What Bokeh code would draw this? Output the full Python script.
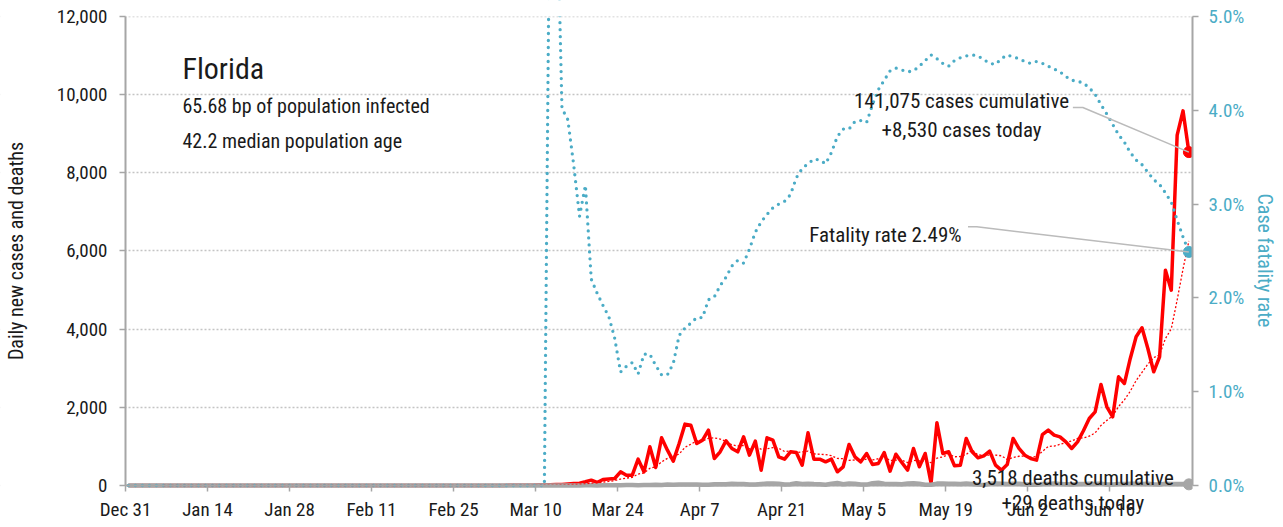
import numpy as np
import pandas as pd
from bokeh.plotting import figure
from bokeh.models import Range1d, LinearAxis, FixedTicker, NumeralTickFormatter, Label, BoxAnnotation
from bokeh.embed import file_html
from bokeh.resources import INLINE

# ---------------- data ----------------
start_date = "2019-12-31"
end_date = "2020-06-29"
dates = pd.date_range(start_date, end_date, freq="D")

# daily new cases (Dec 31 .. Feb 29 are zero)
cases_before_march = [0] * 61
cases_from_march = [
    2, 0, 1, 2, 3, 4, 3, 5, 8, 10,
    13, 18, 22, 28, 40, 50, 60, 95, 136, 77,
    153, 165, 179, 350, 264, 264, 673, 350, 990, 460,
    1220, 903, 622, 1075, 1570, 1543, 1075, 1160, 1415, 690,
    862, 1143, 947, 862, 1245, 776, 1134, 392, 1220, 1160,
    734, 673, 862, 844, 520, 1348, 673, 673, 606, 673,
    350, 478, 1049, 734, 606, 819, 537, 563, 844, 367,
    801, 589, 392, 947, 478, 819, 60, 1604, 819, 862,
    503, 520, 1203, 862, 708, 759, 878, 520, 392, 537,
    1203, 947, 776, 690, 648, 1300, 1415, 1288, 1245, 1117,
    947, 1117, 1400, 1714, 1884, 2584, 2013, 1757, 2781, 2610,
    3250, 3805, 4035, 3506, 2909, 3293, 5510, 4998, 8964, 9585,
    8530,
]
cases = cases_before_march + cases_from_march

# daily deaths (zero until Mar 11)
deaths_before = [0] * 71
deaths_after = [
    2, 0, 0, 1, 1, 2, 2, 3, 4, 2,
    4, 6, 5, 8, 10, 11, 8, 12, 15, 18,
    14, 22, 19, 25, 26, 28, 27, 21, 20, 30,
    34, 29, 45, 40, 36, 26, 24, 39, 48, 52,
    46, 25, 33, 60, 41, 47, 35, 30, 20, 47,
    62, 33, 48, 46, 25, 22, 57, 72, 43, 39,
    36, 30, 48, 58, 42, 20, 19, 48, 50, 47,
    45, 36, 51, 38, 22, 13, 46, 50, 46, 37,
    43, 46, 31, 21, 18, 39, 40, 50, 41, 33,
    25, 36, 38, 47, 37, 48, 27, 24, 40, 39,
    43, 45, 39, 46, 32, 24, 47, 39, 40, 41, 29,
]
deaths = deaths_before + deaths_after

# case fatality rate, percent (zero until Mar 11)
cfr_before = [0.0] * 72
cfr_after = [
    7.0, 6.7, 4.02, 3.9, 3.42, 2.87, 3.2, 2.2, 2.05,
    1.92, 1.80, 1.57, 1.21, 1.27, 1.31, 1.19, 1.40, 1.40, 1.28,
    1.18, 1.18, 1.30, 1.60, 1.68, 1.73, 1.79, 1.79, 1.98, 2.01,
    2.13, 2.22, 2.34, 2.40, 2.37, 2.52, 2.70, 2.81, 2.89, 2.96,
    3.00, 3.03, 3.10, 3.28, 3.38, 3.43, 3.48, 3.47, 3.43, 3.55,
    3.72, 3.80, 3.80, 3.88, 3.89, 3.87, 4.06, 4.22, 4.32, 4.42,
    4.45, 4.43, 4.41, 4.42, 4.47, 4.53, 4.59, 4.55, 4.50, 4.47,
    4.53, 4.56, 4.58, 4.59, 4.58, 4.54, 4.50, 4.49, 4.55, 4.59,
    4.57, 4.55, 4.52, 4.50, 4.52, 4.50, 4.47, 4.44, 4.41, 4.36,
    4.32, 4.31, 4.29, 4.24, 4.17, 4.06, 3.96, 3.85, 3.74, 3.66,
    3.55, 3.47, 3.42, 3.34, 3.26, 3.21, 3.12, 3.02, 2.83, 2.65,
    2.49,
]
cfr = cfr_before + cfr_after

tick_labels = ["Dec 31", "Jan 14", "Jan 28", "Feb 11", "Feb 25", "Mar 10", "Mar 24",
               "Apr 7", "Apr 21", "May 5", "May 19", "Jun 2", "Jun 16"]
left_ticks = [0, 2000, 4000, 6000, 8000, 10000, 12000]
right_ticks = [0.0, 0.01, 0.02, 0.03, 0.04, 0.05]

state = "Florida"
subtitle_1 = "65.68 bp of population infected"
subtitle_2 = "42.2 median population age"
cases_cum_text = "141,075 cases cumulative"
cases_today_text = "+8,530 cases today"
deaths_cum_text = "3,518 deaths cumulative"
deaths_today_text = "+29 deaths today"
cfr_text = "Fatality rate 2.49%"

# ---------------- derived ----------------
t0 = pd.Timestamp(start_date)
x = np.array([(d - t0).days for d in dates], dtype=float) + 0.5   # plotted at midday
cases_avg = pd.Series(cases, dtype=float).rolling(7).mean().values
rate = np.array(cfr) / 100.0
tick_pos = [i * 14 for i in range(len(tick_labels))]

# plot area: 0..X_END days, 0..Y_MAX cases; white margins inside the frame hold the labels
X_END = 182.12
X_PAD = 21.33
Y_MAX = 12000
Y_TOP = 409
Y_PAD = 896
RATE_MAX = 0.05
r_per_case = RATE_MAX / Y_MAX

FONT = "Roboto Condensed"
RED = "#ff0000"
BLUE = "#4bacc6"
GREY = "#a6a6a6"
TXT = "#1a1a1a"

p = figure(frame_width=1192, frame_height=520,
           x_range=Range1d(-X_PAD, X_END), y_range=Range1d(-Y_PAD, Y_MAX + Y_TOP),
           output_backend="svg", toolbar_location=None,
           min_border_left=0, min_border_top=0, min_border_right=60, min_border_bottom=0)
p.extra_y_ranges = {"rate": Range1d(-Y_PAD * r_per_case, (Y_MAX + Y_TOP) * r_per_case)}
p.outline_line_color = None

# x axis on the zero line
xa = p.xaxis[0]
xa.fixed_location = 0
xa.bounds = (0, X_END)
xa.ticker = FixedTicker(ticks=tick_pos)
xa.major_label_overrides = {t: l for t, l in zip(tick_pos, tick_labels)}
# left axis on day 0
ya = p.yaxis[0]
ya.fixed_location = 0
ya.bounds = (0, Y_MAX)
ya.ticker = FixedTicker(ticks=left_ticks)
ya.formatter = NumeralTickFormatter(format="0,0")
ya.axis_label = "Daily new cases and deaths"
# right axis
ra = LinearAxis(y_range_name="rate", ticker=FixedTicker(ticks=right_ticks),
                formatter=NumeralTickFormatter(format="0.0%"),
                bounds=(0, RATE_MAX), axis_label="Case fatality rate")
p.add_layout(ra, "right")

for ax in (xa, ya, ra):
    ax.axis_line_color = GREY
    ax.axis_line_width = 2
    ax.major_tick_line_color = GREY
    ax.major_tick_line_width = 1.5
    ax.major_tick_out = 6
    ax.major_tick_in = 0
    ax.minor_tick_line_color = None
    ax.major_label_text_font = FONT
    ax.major_label_text_font_size = "19px"
    ax.major_label_text_color = TXT
    ax.axis_label_text_font = FONT
    ax.axis_label_text_font_size = "20px"
    ax.axis_label_text_font_style = "normal"
    ax.axis_label_text_color = TXT
xa.major_label_standoff = 7
ya.major_label_standoff = 12
ya.axis_label_standoff = 26
ra.major_label_standoff = 10
ra.axis_label_standoff = 6
ra.major_label_text_color = BLUE
ra.axis_label_text_color = BLUE

p.xgrid.visible = False
p.ygrid.ticker = FixedTicker(ticks=left_ticks)
p.ygrid.grid_line_color = "#c4c4c4"
p.ygrid.grid_line_dash = "2 2"
p.ygrid.grid_line_width = 1.5

# white margin left of day 0 (hides the grid there)
p.add_layout(BoxAnnotation(left=-2 * X_PAD, right=0, bottom=-2 * Y_PAD, top=Y_MAX + 2 * Y_TOP,
                           fill_color="white", fill_alpha=1, line_color=None, level="underlay"))

# ---------------- series ----------------
p.line(x, cases, color=RED, line_width=3.5, line_join="round")
p.line(x, deaths, color=GREY, line_width=4.5, line_join="round")
p.line(x, rate, y_range_name="rate", color=BLUE, line_width=3.3,
       line_dash="0 7", line_cap="round")
p.line(x, cases_avg, color=RED, line_width=1.3, line_dash="2 2")

# the plot area ends at the top gridline
p.add_layout(BoxAnnotation(left=0, right=X_END + 5, bottom=Y_MAX, top=Y_MAX + 3 * Y_TOP,
                           fill_color="white", fill_alpha=1, line_color=None, level="glyph"))

# end markers
p.scatter([x[-1]], [cases[-1]], size=11, color=RED)
p.scatter([x[-1]], [rate[-1]], y_range_name="rate", size=11, color=BLUE)
p.scatter([x[-1]], [deaths[-1]], size=11, color=GREY)

# connectors from the notes to the last points
p.line([161.7, 163.4, x[-1]], [9672, 9672, cases[-1]], color="#bbbbbb", line_width=1.5)
p.line([143.8, 145.3, x[-1]], [0.02758, 0.02758, rate[-1]], y_range_name="rate",
       color="#bbbbbb", line_width=1.5)

# ---------------- texts ----------------
def lab(xv, yv, text, size, align="left", color=TXT):
    p.add_layout(Label(x=xv, y=yv, text=text, text_font=FONT, text_font_size=size,
                       text_align=align, text_baseline="alphabetic", text_color=color))

lab(9.73, 10670, state, "30px")
lab(9.73, 9698, subtitle_1, "20px")
lab(9.73, 8802, subtitle_2, "20px")
lab(142.7, 9826, cases_cum_text, "21px", "center")
lab(142.7, 9084, cases_today_text, "21px", "center")
lab(142.7, 6397, cfr_text, "21px", "right")
lab(161.7, 179, deaths_cum_text, "21px", "center")
lab(161.7, -460, deaths_today_text, "21px", "center")

open("out.html", "w").write(file_html(p, INLINE))
